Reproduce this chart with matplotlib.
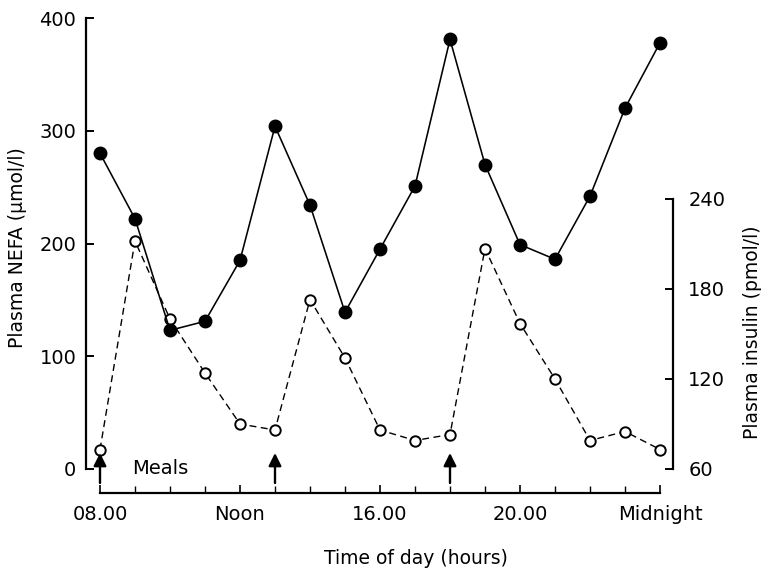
import matplotlib
matplotlib.use("Agg")
import matplotlib.pyplot as plt

hours = [8, 9, 10, 11, 12, 13, 14, 15, 16, 17, 18, 19, 20, 21, 22, 23, 24]
nefa = [280, 222, 123, 131, 185, 304, 234, 139, 195, 251, 381, 270, 199, 186, 242, 320, 378]
insulin = [73, 212, 160, 124, 90, 86, 173, 134, 86, 79, 83, 207, 157, 120, 79, 85, 73]
meal_times = [8, 13, 18]
xtick_pos = [8, 12, 16, 20, 24]
xtick_labels = ["08.00", "Noon", "16.00", "20.00", "Midnight"]
left_ticks = [0, 100, 200, 300, 400]
right_ticks = [60, 120, 180, 240]

plt.rcParams['font.family'] = ['DejaVu Sans']
W, H = 762, 570
fig = plt.figure(figsize=(W / 100, H / 100), dpi=100)

x0, x1 = 86, 673
ytop, ybot = 18, 493
ax = fig.add_axes([x0 / W, (H - ybot) / H, (x1 - x0) / W, (ybot - ytop) / H])
ax2 = ax.twinx()
ax.set_zorder(ax2.get_zorder() + 1)
ax.patch.set_visible(False)

# scales
pxh = 35.0
ax.set_xlim(8 - 14 / pxh, 24 + 13 / pxh)
lpx = (469 - 18) / 400.0
ax.set_ylim(-(493 - 469) / lpx, 400)
rpx = 1.5
ax2.set_ylim(60 - (493 - 469) / rpx, 60 + (469 - 18) / rpx)

ax2.plot(hours, insulin, color='black', lw=1.0, linestyle=(0, (5, 3.2)),
         marker='o', markersize=7.5, markerfacecolor='white',
         markeredgecolor='black', markeredgewidth=1.4, clip_on=False)
ax.plot(hours, nefa, color='black', lw=1.15, marker='o', markersize=9,
        markerfacecolor='black', markeredgecolor='black', clip_on=False)

# spines
ax.spines['top'].set_visible(False)
ax2.spines['top'].set_visible(False)
ax.spines['right'].set_visible(False)
ax2.spines['left'].set_visible(False)
ax2.spines['bottom'].set_visible(False)
ax.spines['left'].set_bounds(0, 400)
ax.spines['bottom'].set_bounds(8, 24)
ax2.spines['right'].set_bounds(60, 240)
for sp in [ax.spines['left'], ax.spines['bottom'], ax2.spines['right']]:
    sp.set_linewidth(1.6)

fs = 14
ax.set_yticks(left_ticks)
ax.set_yticklabels([str(v) for v in left_ticks])
ax.tick_params(axis='y', direction='in', length=6, width=1.4, labelsize=fs, pad=7)
ax.set_xticks(xtick_pos)
ax.set_xticklabels(xtick_labels)
ax.set_xticks(hours, minor=True)
ax.tick_params(axis='x', which='major', direction='in', length=6, width=1.2, labelsize=fs, pad=9)
ax.tick_params(axis='x', which='minor', direction='in', length=5, width=1.0)
ax2.set_yticks(right_ticks)
ax2.set_yticklabels([str(v) for v in right_ticks])
ax2.tick_params(axis='y', direction='in', length=6, width=1.4, labelsize=fs, pad=11)

# meal arrows
for t in meal_times:
    ax.annotate('', xy=(t, (469 - 453) / lpx), xytext=(t, (469 - 483) / lpx),
                arrowprops=dict(arrowstyle='-|>', lw=1.7, color='black',
                                mutation_scale=19, shrinkA=0, shrinkB=0),
                annotation_clip=False)
ax.text(8.92, 0, "Meals", fontsize=fs, ha='left', va='center')

fig.text(18 / W, 1 - 248 / H, "Plasma NEFA (μmol/l)", rotation=90,
         ha='center', va='center', fontsize=13.5)
fig.text(752 / W, 1 - 332 / H, "Plasma insulin (pmol/l)", rotation=90,
         ha='center', va='center', fontsize=13.5)
fig.text(416 / W, 1 - 559 / H, "Time of day (hours)", ha='center', va='center',
         fontsize=13.5)

fig.savefig("out.png", dpi=100)
